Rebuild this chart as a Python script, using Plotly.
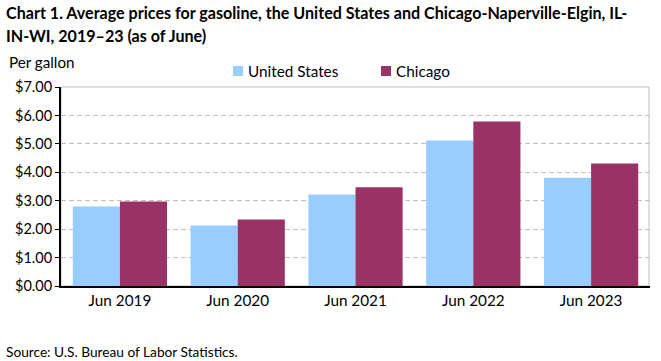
import plotly.graph_objects as go

categories = ["Jun 2019", "Jun 2020", "Jun 2021", "Jun 2022", "Jun 2023"]
us_values = [2.80, 2.13, 3.22, 5.12, 3.81]
chicago_values = [2.97, 2.34, 3.47, 5.79, 4.31]
y_ticks = [0, 1, 2, 3, 4, 5, 6, 7]
y_tick_labels = ["$%.2f" % v for v in y_ticks]
series_names = ["United States", "Chicago"]
series_colors = ["#99ccff", "#993366"]

FONT = "Lato"
W, H = 661, 361
L, R, T, B = 61, 11, 87, 75
PW, PH = W - L - R, H - T - B

def px(x):
    return (x - L) / PW

def py(y):
    return (H - B - y) / PH

fig = go.Figure()
for name, vals, col in zip(series_names, [us_values, chicago_values], series_colors):
    fig.add_trace(go.Bar(name=name, x=categories, y=vals,
                         marker=dict(color=col, line=dict(width=0))))

annotations = [
    dict(text="<b>Chart 1. Average prices for gasoline, the United States and Chicago-Naperville-Elgin, IL-</b>",
         x=px(4), y=py(13), xanchor="left", yanchor="middle", font=dict(size=16.1)),
    dict(text="<b>IN-WI, 2019–23 (as of June)</b>",
         x=px(4), y=py(36), xanchor="left", yanchor="middle", font=dict(size=16.1)),
    dict(text="Per gallon", x=px(7), y=py(62), xanchor="left", yanchor="middle",
         font=dict(size=15.2)),
    dict(text="Source: U.S. Bureau of Labor Statistics.", x=px(4), y=py(351),
         xanchor="left", yanchor="middle", font=dict(size=13.7)),
]
shapes = [dict(type="rect", xref="paper", yref="paper", x0=0, x1=px(649), y0=0, y1=1,
               line=dict(color="#bfbfbf", width=1), layer="below")]
legend_marker_x = [233, 381]
for name, col, mx in zip(series_names, series_colors, legend_marker_x):
    shapes.append(dict(type="rect", xref="paper", yref="paper",
                       x0=px(mx), x1=px(mx + 10), y0=py(76), y1=py(66),
                       fillcolor=col, line=dict(width=0)))
    annotations.append(dict(text=name, x=px(mx + 13), y=py(71), xanchor="left",
                            yanchor="middle", font=dict(size=15.3)))
for a in annotations:
    a.update(xref="paper", yref="paper", showarrow=False, align="left")

fig.update_layout(
    width=W, height=H,
    barmode="group", bargap=0.2, bargroupgap=0,
    plot_bgcolor="white", paper_bgcolor="white",
    margin=dict(l=L, r=R, t=T, b=B, autoexpand=False),
    font=dict(family=FONT, size=14.5, color="black"),
    showlegend=False,
    xaxis=dict(showline=True, linecolor="black", linewidth=2, ticks="",
               tickfont=dict(size=15.3), automargin=False),
    yaxis=dict(range=[0, 7], tickvals=y_ticks, ticktext=y_tick_labels,
               showline=True, linecolor="black", linewidth=2,
               ticks="outside", ticklen=4, tickcolor="black", tickwidth=1,
               showgrid=True, gridcolor="#c0c0c0", griddash="5px,3px", gridwidth=1,
               zeroline=False, tickfont=dict(size=14.5), automargin=False),
    annotations=annotations,
    shapes=shapes,
)

fig.write_html("out.html", config={"displayModeBar": False},
               post_script="document.body.style.margin='0';")
